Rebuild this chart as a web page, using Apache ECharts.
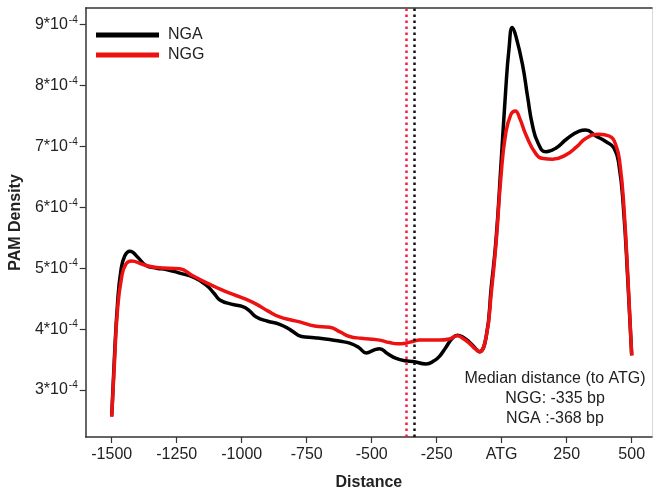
<!DOCTYPE html>
<html>
<head>
<meta charset="utf-8">
<script src="https://cdn.jsdelivr.net/npm/echarts@6/dist/echarts.min.js"></script>
<style>html,body{margin:0;padding:0;background:#fff}#c{width:654px;height:502px}</style>
</head>
<body>
<div id="c"></div>
<script>
// Values are PAM density in units of 1e-4
var ngaX = [-1500,-1490,-1478,-1465,-1450,-1430,-1400,-1370,-1327,-1290,-1238,-1180,-1136,-1105,-1084,-1040,-996,-970,-944,-900,-854,-810,-770,-720,-662,-620,-585,-550,-521,-490,-470,-440,-406,-370,-342,-291,-260,-240,-215,-190,-170,-150,-125,-100,-86,-60,-40,-22,-3,15,28,41,55,80,100,118,140,170,208,250,298,323,362,400,432,451,468,485,500];
var ngaY = [2.58,3.5,4.4,4.95,5.2,5.28,5.18,5.05,5.0,4.98,4.92,4.84,4.72,4.58,4.48,4.41,4.37,4.3,4.2,4.13,4.08,3.98,3.88,3.86,3.83,3.8,3.77,3.7,3.61,3.66,3.68,3.6,3.52,3.48,3.47,3.43,3.48,3.55,3.7,3.85,3.9,3.87,3.79,3.68,3.63,3.87,4.7,5.46,6.69,7.9,8.6,8.95,8.8,8.34,7.8,7.35,7.05,6.91,6.97,7.12,7.25,7.27,7.17,7.08,6.97,6.69,6.0,4.8,3.57];
var nggX = [-1500,-1490,-1478,-1462,-1445,-1424,-1380,-1327,-1238,-1190,-1135,-1090,-1046,-990,-944,-900,-854,-810,-777,-720,-662,-620,-585,-540,-508,-470,-432,-400,-370,-340,-317,-280,-240,-201,-171,-150,-125,-100,-86,-60,-40,-22,-3,15,35,52,70,93,131,160,195,247,290,323,374,413,439,455,470,487,500];
var nggY = [2.56,3.4,4.3,4.85,5.07,5.12,5.06,5.01,4.99,4.88,4.76,4.67,4.59,4.5,4.41,4.3,4.2,4.15,4.12,4.05,4.03,3.95,3.88,3.85,3.84,3.82,3.78,3.76,3.77,3.8,3.82,3.82,3.82,3.84,3.89,3.85,3.77,3.67,3.63,3.87,4.6,5.4,6.5,7.2,7.52,7.58,7.45,7.19,6.88,6.8,6.79,6.86,7.0,7.13,7.2,7.17,7.02,6.7,6.0,4.7,3.57];
var xTicks = [-1500,-1250,-1000,-750,-500,-250,0,250,500];
var yTicks = [3,4,5,6,7,8,9];
var medianNGA = -368;
var medianNGG = -335;
var annotation = ['Median distance (to ATG)','NGG: -335 bp','NGA :-368 bp'];

var S = 1e-4;
function pairs(xs, ys){ return xs.map(function(x,i){ return [x, ys[i]*S]; }); }
var font = '"Liberation Sans", Arial, sans-serif';
var chart = echarts.init(document.getElementById('c'), null, {renderer:'canvas'});
chart.setOption({
  animation:false,
  grid:{left:85, top:8, right:2, bottom:65, containLabel:false},
  legend:{
    data:['NGA','NGG'], orient:'vertical', left:96, top:27, padding:0, icon:'rect',
    itemWidth:63, itemHeight:5, itemGap:4,
    textStyle:{fontFamily:font, fontSize:16, color:'#222', lineHeight:16, padding:[0,0,0,4]}
  },
  xAxis:[{
    type:'value', min:-1600, max:578,
    name:'Distance', nameLocation:'middle', nameGap:38,
    nameTextStyle:{fontFamily:font, fontSize:16, fontWeight:'bold', color:'#222'},
    splitLine:{show:false},
    axisLine:{show:true, onZero:false, lineStyle:{color:'#333', width:1.5}},
    axisTick:{show:true, customValues:xTicks, length:6, lineStyle:{color:'#333', width:1.2}},
    axisLabel:{customValues:xTicks, fontFamily:font, fontSize:16, color:'#222', margin:10,
      formatter:function(v){ return v===0 ? 'ATG' : String(v); }}
  },{
    type:'value', position:'top', min:-1600, max:578,
    axisLine:{show:true, onZero:false, lineStyle:{color:'#333', width:1.5}},
    axisTick:{show:false}, axisLabel:{show:false}, splitLine:{show:false}
  }],
  yAxis:[{
    type:'value', min:2.23*S, max:9.27*S,
    name:'PAM Density', nameLocation:'middle', nameGap:55, nameRotate:90,
    nameTextStyle:{fontFamily:font, fontSize:16, fontWeight:'bold', color:'#222'},
    splitLine:{show:false},
    axisLine:{show:true, onZero:false, lineStyle:{color:'#333', width:1.5}},
    axisTick:{show:true, customValues:yTicks.map(function(v){return v*S;}), length:6, lineStyle:{color:'#333', width:1.2}},
    axisLabel:{customValues:yTicks.map(function(v){return v*S;}), margin:8,
      formatter:function(v){ return '{b|' + Math.round(v/S) + '*10}{s|-4}'; },
      rich:{ b:{fontFamily:font, fontSize:16, color:'#222'}, s:{fontFamily:font, fontSize:10, color:'#222', padding:[0,0,9,1]} }
    }
  },{
    type:'value', position:'right', min:2.23*S, max:9.27*S,
    axisLine:{show:true, onZero:false, lineStyle:{color:'#d8d8d8', width:1}},
    axisTick:{show:false}, axisLabel:{show:false}, splitLine:{show:false}
  }],
  series:[{
    name:'NGA', type:'line', data:pairs(ngaX, ngaY), showSymbol:false, smooth:0.5,
    lineStyle:{color:'#000', width:3.5}, itemStyle:{color:'#000'}, z:3,
    markLine:{symbol:'none', silent:true, label:{show:false},
      lineStyle:{color:'#111', type:[2.5,3.5], width:2.5},
      data:[{xAxis:medianNGG}]}
  },{
    name:'NGG', type:'line', data:pairs(nggX, nggY), showSymbol:false, smooth:0.5,
    lineStyle:{color:'#ee1111', width:3.5}, itemStyle:{color:'#ee1111'}, z:4,
    markLine:{symbol:'none', silent:true, label:{show:false},
      lineStyle:{color:'#ee2244', type:[2.5,3.5], width:2.5},
      data:[{xAxis:medianNGA}]}
  }],
  graphic:annotation.map(function(t,i){
    return {type:'text', x:555, y:371+i*20,
      style:{text:t, fill:'#222', font:'16px ' + font, textAlign:'center', textVerticalAlign:'top'}};
  })
});
</script>
</body>
</html>
